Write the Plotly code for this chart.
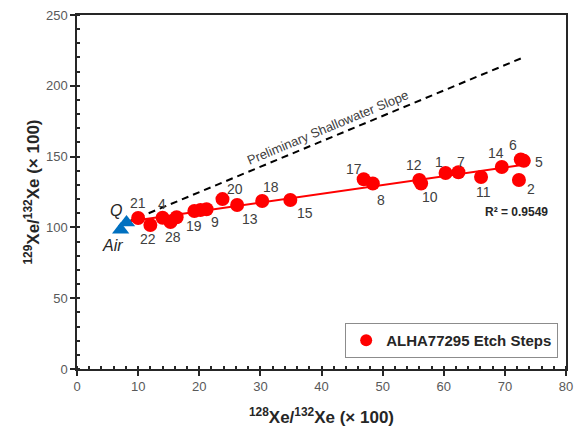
import numpy as np
import plotly.graph_objects as go

# ---- data ----
step_labels = ["21", "22", "4", "28", "", "19", "", "9", "20", "13", "18", "15",
               "17", "8", "12", "10", "1", "7", "11", "14", "6", "5", "2"]
x_vals = [10.0, 12.0, 14.0, 15.3, 16.3, 19.2, 20.2, 21.2, 23.8, 26.2, 30.3, 34.9,
          46.9, 48.4, 56.0, 56.3, 60.3, 62.4, 66.1, 69.5, 72.6, 73.1, 72.3]
y_vals = [106.6, 101.7, 106.8, 103.8, 107.2, 111.6, 112.2, 112.8, 120.0, 115.8, 118.6, 119.3,
          134.0, 131.0, 133.5, 131.0, 138.4, 139.0, 135.6, 142.7, 148.0, 147.0, 133.5]

ref_names = ["Air", "Q"]
ref_x = [7.14, 8.1]
ref_y = [98.3, 103.5]

slope_x = [8.1, 73.0]
slope_y = [103.5, 220.0]

r2_text = "R² = 0.9549"
slope_text = "Preliminary Shallowater Slope"

x_ticks = [0, 10, 20, 30, 40, 50, 60, 70, 80]
y_ticks = [0, 50, 100, 150, 200, 250]

# ---- label offsets (pixels, styling) ----
label_offsets = {
    "21": (0, -15), "22": (-2, 14), "4": (-1, -14), "28": (2, 15), "19": (0, 15),
    "9": (8, 13), "20": (13, -10), "13": (13, 14), "18": (9, -14), "15": (15, 13),
    "17": (-10, -10), "8": (8, 16), "12": (-5, -15), "10": (9, 13), "1": (-7, -11),
    "7": (3, -10), "11": (2, 15), "14": (-6, -14), "6": (-8, -14), "5": (15, 1), "2": (12, 9),
}

FONT = "Liberation Sans, Arial, sans-serif"
RED = "#FF0000"
BLUE = "#0070C0"
DARK = "#404040"

fig = go.Figure()

# dashed slope line
fig.add_trace(go.Scatter(x=slope_x, y=slope_y, mode="lines",
                         line=dict(color="black", width=2, dash="7px,5px"),
                         showlegend=False, hoverinfo="skip"))

# regression line through etch steps
coef = np.polyfit(x_vals, y_vals, 1)
fx = np.array([min(ref_x[1], min(x_vals)) + 0.6, max(x_vals)])
fig.add_trace(go.Scatter(x=fx, y=np.polyval(coef, fx), mode="lines",
                         line=dict(color=RED, width=2), showlegend=False, hoverinfo="skip"))

# reference points
fig.add_trace(go.Scatter(x=ref_x, y=ref_y, mode="markers",
                         marker=dict(symbol="triangle-up", size=15, color=BLUE),
                         showlegend=False))

# etch steps
fig.add_trace(go.Scatter(x=x_vals, y=y_vals, mode="markers",
                         marker=dict(color=RED, size=14),
                         name="<b>ALHA77295 Etch Steps</b>"))

annotations = []
for lab, xv, yv in zip(step_labels, x_vals, y_vals):
    if not lab:
        continue
    dx, dy = label_offsets[lab]
    annotations.append(dict(x=xv, y=yv, text=lab, showarrow=False,
                            xshift=dx, yshift=-dy,
                            font=dict(family=FONT, size=14, color=DARK)))

ref_offsets = {"Air": (-8, 16), "Q": (-11, 12)}
for name, xv, yv in zip(ref_names, ref_x, ref_y):
    dx, dy = ref_offsets[name]
    annotations.append(dict(x=xv, y=yv, text=f"<i>{name}</i>", showarrow=False,
                            xshift=dx, yshift=-dy if name == "Air" else dy,
                            font=dict(family=FONT, size=16, color="#262626")))

annotations.append(dict(x=66.4, y=111, text=f"<b>{r2_text}</b>", showarrow=False,
                        xanchor="left", font=dict(family=FONT, size=12, color="#262626")))

annotations.append(dict(x=41.5, y=163.5, text=slope_text, showarrow=False,
                        textangle=-22.6, yshift=10, xshift=-3,
                        font=dict(family=FONT, size=13, color=DARK)))

fig.update_layout(
    width=579, height=428,
    margin=dict(l=77, r=13, t=15, b=59),
    paper_bgcolor="white", plot_bgcolor="white",
    font=dict(family=FONT, color="#595959"),
    annotations=annotations,
    showlegend=True,
    legend=dict(x=0.984, y=0.031, xanchor="right", yanchor="bottom",
                bgcolor="white", bordercolor="#8c8c8c", borderwidth=1,
                font=dict(family=FONT, size=15, color="#262626"),
                itemsizing="constant", itemwidth=30, tracegroupgap=0),
)

fig.update_xaxes(range=[0, 80], tickvals=x_ticks, ticks="outside", ticklen=5,
                 tickwidth=1.5, tickcolor="#262626", automargin=False,
                 showline=True, linecolor="#262626", linewidth=1.5, mirror=True,
                 showgrid=False, zeroline=False,
                 minor=dict(dtick=2, ticks="inside", ticklen=3, tickcolor="#262626"),
                 tickfont=dict(family=FONT, size=13, color="#595959"),
                 title=dict(text="<b><sup>128</sup>Xe/<sup>132</sup>Xe (× 100)</b>",
                            font=dict(family=FONT, size=17, color="#262626"), standoff=18))
fig.update_yaxes(range=[0, 250], tickvals=y_ticks, ticks="outside", ticklen=5,
                 tickwidth=1.5, tickcolor="#262626", automargin=False,
                 showline=True, linecolor="#262626", linewidth=1.5, mirror=True,
                 showgrid=False, zeroline=False,
                 minor=dict(dtick=10, ticks="inside", ticklen=3, tickcolor="#262626"),
                 tickfont=dict(family=FONT, size=13, color="#595959"),
                 title=dict(text="<b><sup>129</sup>Xe/<sup>132</sup>Xe (× 100)</b>",
                            font=dict(family=FONT, size=17, color="#262626"), standoff=2))

fig.write_html("out.html")
